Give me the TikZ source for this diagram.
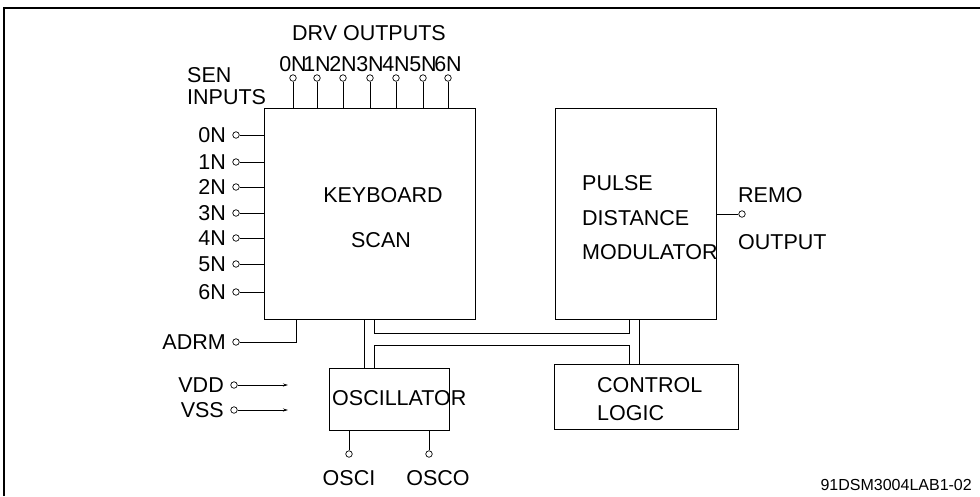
\documentclass[tikz,border=0pt]{standalone}
\usepackage{fontspec}
\setmainfont{Liberation Sans}
\usetikzlibrary{arrows.meta,positioning,calc}

\tikzset{
  block/.style={draw,line width=0.9pt,anchor=north west,inner sep=0pt},
  term/.style={circle,draw,line width=0.7pt,inner sep=0pt,minimum size=6.5pt},
  lbl/.style={inner sep=0pt,font=\fontsize{21.5}{24}\selectfont},
  wire/.style={line width=0.8pt}
}

\begin{document}
\begin{tikzpicture}[x=1pt,y=-1pt,>={Stealth[length=5pt,width=3pt]}]
  \useasboundingbox (0,0) rectangle (980,496);
  % frame
  \draw[line width=2pt] (4,496) -- (4,8) -- (980,8);

  % blocks
  \node[block,minimum width=211pt,minimum height=211pt] (kbd) at (264,108) {};
  \node[block,minimum width=161pt,minimum height=211pt] (pdm) at (555,108) {};
  \node[block,minimum width=120pt,minimum height=62pt] (osc) at (329,368) {};
  \node[block,minimum width=184pt,minimum height=65pt] (ctl) at (554,364) {};

  \node[lbl] (kbdA) at (383,195) {KEYBOARD};
  \node[lbl] (kbdB) at (381,240) {SCAN};
  \node[lbl,anchor=west] (pdmA) at (582,183) {PULSE};
  \node[lbl,anchor=west] (pdmB) at (582,218) {DISTANCE};
  \node[lbl,anchor=west] (pdmC) at (582,252) {MODULATOR};
  \node[lbl,anchor=west] (oscA) at (332,398) {OSCILLATOR};
  \node[lbl,anchor=west] (ctlA) at (597,385) {CONTROL};
  \node[lbl,anchor=west] (ctlB) at (597,413) {LOGIC};

  % drive outputs
  \node[lbl] (drvT) at (369,33) {DRV OUTPUTS};
  \foreach \x [count=\i from 0] in {293,317,343,370,396,423,448} {
    \node[term] (drv\i) at (\x,78) {};
    \node[lbl] (drvL\i) at (\x,64) {\i N};
    \draw[wire] (drv\i) -- (drv\i |- kbd.north);
  }

  % sense inputs
  \node[lbl,anchor=west] (senA) at (187,75) {SEN};
  \node[lbl,anchor=west] (senB) at (187,97) {INPUTS};
  \foreach \y [count=\i from 0] in {135,162,187,213,238,264,292} {
    \node[term] (sen\i) at (236,\y) {};
    \node[lbl,anchor=east] (senL\i) at (226,\y) {\i N};
    \draw[wire] (sen\i) -- (sen\i -| kbd.west);
  }

  % adrm
  \node[term] (adrm) at (236,342) {};
  \node[lbl,anchor=east] (adrmL) at (226,342) {ADRM};
  \coordinate (adrmK) at (296,319);
  \draw[wire] (adrm) -| (adrmK);

  % supply
  \node[term] (vdd) at (234,385) {};
  \node[lbl,anchor=east] (vddL) at (224,385) {VDD};
  \coordinate (vddE) at (288,385);
  \draw[wire,->] (vdd) -- (vddE);
  \node[term] (vss) at (234,410) {};
  \node[lbl,anchor=east] (vssL) at (224,410) {VSS};
  \coordinate (vssE) at (288,410);
  \draw[wire,->] (vss) -- (vssE);

  % oscillator pins
  \node[term] (osci) at (349,454) {};
  \node[lbl] (osciL) at (349,478) {OSCI};
  \draw[wire] (osci) -- (osci |- osc.south);
  \node[term] (osco) at (429,454) {};
  \node[lbl] (oscoL) at (438,478) {OSCO};
  \draw[wire] (osco) -- (osco |- osc.south);

  % remote output
  \node[term] (remo) at (742,214) {};
  \draw[wire] (remo) -- (remo -| pdm.east);
  \node[lbl,anchor=west] (remoA) at (738,195) {REMO};
  \node[lbl,anchor=west] (remoB) at (738,242) {OUTPUT};

  % internal bus
  \draw[wire] (364,319 |- kbd.south) -- (364,368 |- osc.north);
  \draw[wire] (374,319) -- (374,333) -- (629,333) -- (629,319);
  \draw[wire] (374,368) -- (374,345) -- (629,345) -- (629,364);
  \draw[wire] (639,319) -- (639,364);

  \node[inner sep=0pt,font=\fontsize{16}{18}\selectfont,anchor=east] (ref) at (972,485) {91DSM3004LAB1-02};
\end{tikzpicture}
\end{document}
